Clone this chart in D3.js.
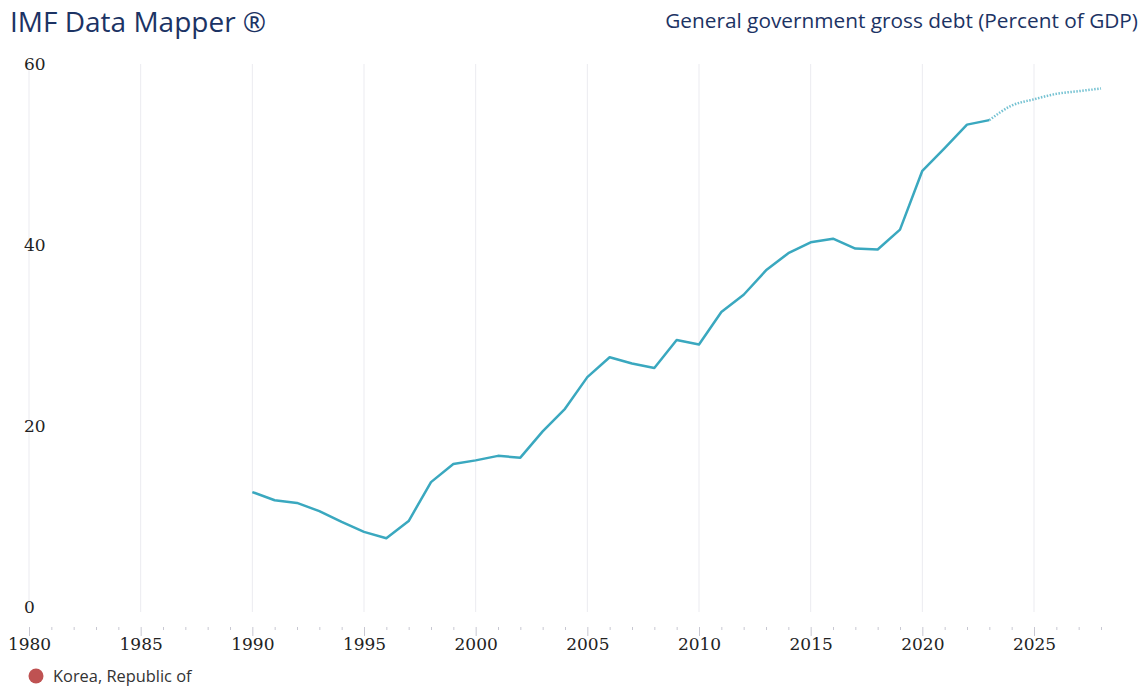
<!DOCTYPE html>
<html>
<head>
<meta charset="utf-8">
<script src="https://cdn.jsdelivr.net/npm/d3@7"></script>
<style>
  html, body { margin: 0; padding: 0; background: #fff; }
  svg { display: block; }
</style>
</head>
<body>
<div id="chart"></div>
<script>
// actual values (percent of GDP)
const years = d3.range(1990, 2024);
const debt = [
  12.7, 11.8, 11.5, 10.6, 9.4, 8.3, 7.6, 9.5, 13.8, 15.8,
  16.2, 16.7, 16.5, 19.4, 21.9, 25.4, 27.6, 26.9, 26.4, 29.5,
  29.0, 32.6, 34.5, 37.2, 39.1, 40.3, 40.7, 39.6, 39.5, 41.7,
  48.2, 50.7, 53.3, 53.8
];
// projections
const projYears = [2023, 2024, 2025, 2026, 2027, 2028];
const projDebt = [53.8, 55.4, 56.1, 56.7, 57.0, 57.3];

const xTicks = [1980, 1985, 1990, 1995, 2000, 2005, 2010, 2015, 2020, 2025];
const yTicks = [0, 20, 40, 60];

const title = "IMF Data Mapper \u00AE";
const subtitle = "General government gross debt (Percent of GDP)";
const country = "Korea, Republic of";

const width = 1144, height = 686;
const lineColor = "#3aa8bf";
const navy = "#1c3364";
const tickFont = "'DejaVu Serif', serif";

const svg = d3.select("#chart").append("svg")
  .attr("width", width)
  .attr("height", height);

const x = d3.scaleLinear([1980, 2028], [29, 1101]);
const y = d3.scaleLinear([0, 60], [607, 64]);

// titles
svg.append("text")
  .attr("x", 10).attr("y", 32)
  .attr("font-family", "'Open Sans', sans-serif")
  .attr("font-size", 28)
  .attr("fill", navy)
  .text(title);

svg.append("text")
  .attr("x", 1138).attr("y", 28)
  .attr("text-anchor", "end")
  .attr("font-family", "'Open Sans', sans-serif")
  .attr("font-size", 20.8)
  .attr("fill", navy)
  .text(subtitle);

// vertical grid
svg.append("g")
  .selectAll("line")
  .data(xTicks)
  .join("line")
  .attr("x1", d => x(d)).attr("x2", d => x(d))
  .attr("y1", y(60)).attr("y2", 612)
  .attr("stroke", "#ebebf0")
  .attr("stroke-width", 1);

// year ticks
const xAxis = svg.append("g")
  .attr("transform", "translate(0,627)")
  .call(d3.axisBottom(x)
    .tickValues(d3.range(1980, 2029))
    .tickSize(3)
    .tickFormat(d => xTicks.includes(d) ? d : ""));
xAxis.select(".domain").remove();
xAxis.selectAll(".tick line")
  .attr("stroke", "#c8c8d2")
  .attr("y2", d => xTicks.includes(d) ? 9 : 3);
xAxis.selectAll(".tick text")
  .attr("y", 11)
  .attr("font-family", tickFont)
  .attr("font-size", 17)
  .attr("fill", "#222");

// y labels
const yAxis = svg.append("g")
  .attr("transform", "translate(24,0)")
  .call(d3.axisRight(y).tickValues(yTicks).tickSize(0).tickPadding(0));
yAxis.select(".domain").remove();
yAxis.selectAll(".tick text")
  .attr("font-family", tickFont)
  .attr("font-size", 17)
  .attr("fill", "#222");

// lines
const line = d3.line()
  .x(d => x(d[0]))
  .y(d => y(d[1]));

svg.append("path")
  .datum(d3.zip(years, debt))
  .attr("d", line)
  .attr("fill", "none")
  .attr("stroke", lineColor)
  .attr("stroke-width", 2.5)
  .attr("stroke-linejoin", "round");

svg.append("path")
  .datum(d3.zip(projYears, projDebt))
  .attr("d", line.curve(d3.curveMonotoneX))
  .attr("fill", "none")
  .attr("stroke", lineColor)
  .attr("stroke-opacity", 0.7)
  .attr("stroke-width", 2.5)
  .attr("stroke-dasharray", "1.5,1.5");

// legend
svg.append("circle")
  .attr("cx", 36).attr("cy", 676).attr("r", 7.5)
  .attr("fill", "#bf5252");

svg.append("text")
  .attr("x", 53).attr("y", 681.5)
  .attr("font-family", "'Open Sans', sans-serif")
  .attr("font-size", 16.4)
  .attr("fill", "#333")
  .text(country);
</script>
</body>
</html>
